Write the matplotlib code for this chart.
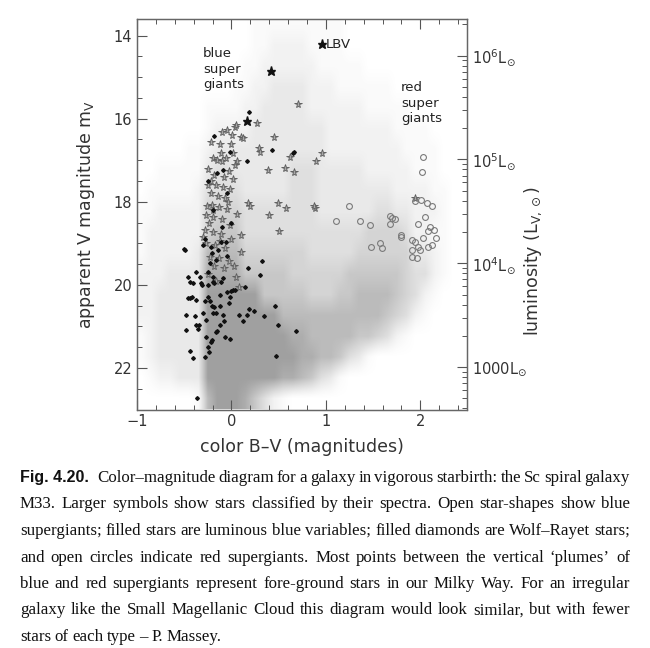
import numpy as np
import matplotlib
matplotlib.use("Agg")
import matplotlib.pyplot as plt
from matplotlib.colors import LinearSegmentedColormap, PowerNorm
from matplotlib.ticker import MultipleLocator, LogLocator, FixedLocator, FuncFormatter, NullFormatter

# field-star cloud: density levels (0-9),
# one string per 0.5 mag row (13.75 ... 22.75), one digit per 0.1 in B-V (-0.95 ... 2.45)
density_rows = [
    "00000 00000 00111 11111 11000 00000 00000",
    "00000 00000 00112 22211 11000 00000 00000",
    "00000 00000 01122 22221 11110 00000 00000",
    "00000 00000 11223 33322 21111 11000 00000",
    "00000 00111 12233 33322 22221 11110 00000",
    "00000 00122 22333 33333 22222 22111 10000",
    "00000 11233 33333 33333 22222 22211 11000",
    "00111 11344 33333 34443 33332 22221 11000",
    "01111 12444 43333 34443 33333 33222 21100",
    "11222 22555 54444 44443 33333 44332 22100",
    "12222 22566 64444 44444 44445 55542 21100",
    "12222 23777 75555 55544 44455 55553 32100",
    "22233 33888 86666 65555 55666 66654 42100",
    "22333 33999 99966 66655 56677 77654 21000",
    "22333 33999 99999 77777 77777 76542 10000",
    "12333 33999 99999 98877 77766 54210 00000",
    "12333 33999 99999 99887 76431 00000 00000",
    "01223 33999 99999 88764 31000 00000 00000",
    "00000 01799 98642 10000 00000 00000 00000",
]

# blue supergiants (open stars)
bsg_bv = [-0.22, -0.10, -0.05, 0.035, 0.05, 0.10, 0.12, 0.01, 0.27, 0.45, 0.71, 0.29,
          -0.11, 0.02, 0.30, 0.62, 0.90, 0.96, 0.39, 0.57, 0.66, -0.10, 0.035, 0.06,
          -0.18, -0.08, 0.02, -0.16, -0.09, -0.22, -0.14, -0.07, -0.21, -0.13, -0.05,
          -0.27, -0.19, -0.10, -0.28, -0.19, -0.11, -0.27, -0.17, -0.07, -0.23, -0.13,
          -0.03, 0.18, 0.20, 0.49, 0.58, 0.40, 0.88, 0.50, -0.20, -0.25, -0.03, -0.25,
          -0.01, -0.24, -0.02, -0.30, 0.00, -0.18, -0.08, -0.25, 0.05, -0.12, 0.00,
          -0.06, 0.06, 0.10, 0.10, 0.08, 0.87, 1.94, -0.15, -0.20, -0.04, -0.26, -0.12,
          0.03, -0.16, -0.22]
bsg_mag = [16.55, 16.33, 16.27, 16.20, 16.14, 16.43, 16.47, 16.39, 16.10, 16.44, 15.65, 16.70,
           16.83, 16.83, 16.79, 16.92, 17.01, 16.83, 17.23, 17.19, 17.29, 17.03, 17.11, 17.03,
           17.35, 17.40, 17.45, 17.59, 17.65, 17.79, 17.85, 17.92, 18.07, 18.12, 18.17,
           18.31, 18.36, 18.42, 18.67, 18.72, 18.78, 19.00, 19.05, 19.12, 19.32, 19.36,
           19.42, 18.03, 18.10, 18.03, 18.15, 18.31, 18.15, 18.70, 16.95, 17.20, 17.25, 17.60,
           17.70, 18.50, 18.55, 18.85, 18.90, 19.55, 19.60, 19.75, 19.80, 16.60, 16.60,
           16.95, 18.30, 18.80, 19.20, 20.05, 18.10, 17.90, 17.00, 18.20, 18.00, 18.10, 18.95,
           19.55, 19.90, 17.50]

# luminous blue variables (filled stars)
lbv_bv = [0.96, 0.42, 0.17]
lbv_mag = [14.19, 14.86, 16.06]

# Wolf-Rayet stars (filled diamonds)
wr_bv = [0.19, -0.18, 0.43, 0.65, -0.02, -0.09, 0.16, -0.49, -0.37, -0.46, -0.44, -0.33,
         -0.31, -0.44, -0.38, -0.48, -0.39, -0.48, -0.37, -0.44, -0.41, -0.36, -0.28, -0.24,
         -0.27, -0.21, -0.16, -0.12, -0.07, -0.02, -0.16, -0.09, -0.18, -0.12, -0.03, -0.05,
         0.00, 0.035, -0.25, -0.23, -0.12, -0.25, -0.18, -0.11, -0.09, -0.20, -0.25, -0.23,
         -0.16, -0.21, -0.14, -0.11, -0.06, 0.16, 0.08, 0.12, 0.19, 0.24, 0.18, 0.30, 0.32,
         0.35, 0.46, 0.49, 0.47, 0.68, -0.25, 0.14, -0.22, -0.15, -0.08, -0.27, -0.35, -0.34,
         -0.46, -0.42, -0.28, -0.30, -0.19, -0.21, -0.01, 0.02, -0.41, -0.32, -0.20, -0.50,
         -0.30, 0.66, -0.25, -0.15, -0.05, -0.20, -0.10, -0.28, 0.00, -0.05, -0.22]
wr_mag = [15.85, 16.41, 16.76, 16.83, 16.79, 17.23, 17.03, 19.16, 19.68, 19.82, 19.92, 19.80,
          20.00, 20.32, 20.36, 20.72, 20.76, 21.08, 20.96, 21.58, 21.77, 22.73, 21.73, 21.61,
          21.25, 21.33, 21.13, 20.96, 21.25, 21.31, 20.68, 20.72, 20.54, 20.52, 20.44, 20.16,
          20.14, 20.12, 20.28, 20.40, 20.24, 20.00, 19.96, 19.92, 19.84, 19.80, 19.68, 19.48,
          19.40, 19.24, 19.16, 18.96, 18.96, 20.72, 20.72, 20.88, 20.58, 20.64, 19.60, 19.76,
          19.42, 20.75, 20.52, 20.96, 21.71, 21.12, 21.49, 20.04, 21.37, 21.12, 20.88, 20.84,
          21.07, 20.96, 20.32, 20.28, 20.40, 20.68, 20.68, 20.52, 20.28, 20.12, 19.95, 19.96,
          19.92, 19.14, 19.04, 16.81, 17.50, 17.30, 17.80, 18.20, 18.60, 18.90, 18.50, 19.30,
          19.10]

# red supergiants (open circles)
rsg_bv = [2.03, 2.02, 1.94, 2.01, 2.07, 2.12, 1.68, 1.73, 1.68, 1.80, 1.98, 2.05, 2.14, 2.10,
          1.94, 1.98, 2.03, 2.08, 1.91, 1.57, 1.59, 1.36, 1.11, 1.24, 2.17, 2.08, 1.91, 2.00,
          1.80, 1.70, 1.47, 1.48, 2.12, 1.91, 1.96]
rsg_mag = [16.91, 17.28, 17.97, 17.95, 18.03, 18.11, 18.34, 18.42, 18.53, 18.80, 18.53, 18.37,
           18.67, 18.60, 18.96, 19.08, 18.87, 19.08, 19.16, 19.00, 19.12, 18.47, 18.47, 18.11,
           18.87, 18.71, 18.92, 19.16, 18.84, 18.39, 18.55, 19.08, 19.04, 19.32, 19.35]

lum_ticks = [1e3, 1e4, 1e5, 1e6]
lum_labels = [r"$1000\mathrm{L}_{\odot}$", r"$10^{4}\mathrm{L}_{\odot}$",
              r"$10^{5}\mathrm{L}_{\odot}$", r"$10^{6}\mathrm{L}_{\odot}$"]

caption = [
    [("Fig. 4.20.", "bold"), ("Color\u2013magnitude", "normal"), ("diagram", "normal"), ("for", "normal"),
     ("a", "normal"), ("galaxy", "normal"), ("in", "normal"), ("vigorous", "normal"), ("starbirth:", "normal"),
     ("the", "normal"), ("Sc", "normal"), ("spiral", "normal"), ("galaxy", "normal")],
    "M33. Larger symbols show stars classified by their spectra. Open star-shapes show blue",
    "supergiants; filled stars are luminous blue variables; filled diamonds are Wolf\u2013Rayet stars;",
    "and open circles indicate red supergiants. Most points between the vertical \u2018plumes\u2019 of",
    "blue and red supergiants represent fore-ground stars in our Milky Way. For an irregular",
    "galaxy like the Small Magellanic Cloud this diagram would look similar, but with fewer",
    "stars of each type \u2013 P. Massey.",
]


def mag_to_lum(m):
    return 10 ** (6 - (m - 14.48) / 2.5)


W, H = 650, 648
fig = plt.figure(figsize=(6.5, 6.48), dpi=100)
ax = fig.add_axes([137 / W, 1 - 409.5 / H, (467.5 - 137) / W, (409.5 - 19) / H])

grid = np.array([[int(c) for c in row.replace(" ", "")] for row in density_rows], dtype=float)
cmap = LinearSegmentedColormap.from_list("cloud", ["#ffffff", "#a0a0a0"])
ax.imshow(grid, cmap=cmap, norm=PowerNorm(gamma=1.35, vmin=0, vmax=9),
          extent=(-1.0, 2.5, 23.0, 13.5),
          aspect="auto", interpolation="bilinear", zorder=1)

ax.plot(rsg_bv, rsg_mag, "o", ms=4.2, mfc="none", mec="#7a7a7a", mew=0.8, zorder=3)
ax.plot(bsg_bv, bsg_mag, "*", ms=5.8, mfc="#a8a8a8", mec="#5a5a5a", mew=0.6, zorder=4)
ax.plot(wr_bv, wr_mag, "D", ms=1.9, color="#111111", zorder=5)
ax.plot(lbv_bv, lbv_mag, "*", ms=6.5, color="#111111", zorder=6)

ax.text(-0.30, 14.28, "blue\nsuper\ngiants", fontsize=9.5, va="top", ha="left",
        linespacing=1.25, color="#222222")
ax.text(1.795, 15.10, "red\nsuper\ngiants", fontsize=9.5, va="top", ha="left",
        linespacing=1.25, color="#222222")
ax.text(1.0, 14.22, "LBV", fontsize=9.5, va="center", ha="left", color="#222222")

ax.set_xlim(-1.0, 2.5)
ax.set_ylim(23.0, 13.6)
ax.xaxis.set_major_locator(MultipleLocator(1))
ax.xaxis.set_minor_locator(MultipleLocator(0.2))
ax.yaxis.set_major_locator(MultipleLocator(2))
ax.yaxis.set_minor_locator(MultipleLocator(0.5))
ax.tick_params(which="both", direction="in", top=True, right=False, colors="#555555",
               labelcolor="#333333", labelsize=10.5)
ax.tick_params(which="major", length=7, width=0.8)
ax.tick_params(which="minor", length=3.5, width=0.7)
for s in ax.spines.values():
    s.set_color("#666666")
    s.set_linewidth(0.9)

ax.set_xlabel("color B\u2013V (magnitudes)", fontsize=12.5, color="#333333", labelpad=6)
ax.set_ylabel(r"apparent V magnitude m$_{\rm V}$", fontsize=12.5, color="#333333", labelpad=12)

ax2 = ax.twinx()
ax2.set_yscale("log")
ax2.set_ylim(mag_to_lum(23.0), mag_to_lum(13.6))
ax2.yaxis.set_major_locator(FixedLocator(lum_ticks))
ax2.yaxis.set_major_formatter(FuncFormatter(lambda v, p: lum_labels[lum_ticks.index(v)] if v in lum_ticks else ""))
ax2.yaxis.set_minor_locator(LogLocator(base=10, subs=np.arange(2, 10)))
ax2.yaxis.set_minor_formatter(NullFormatter())
ax2.tick_params(which="both", direction="in", colors="#555555", labelcolor="#333333", labelsize=10.5)
ax2.tick_params(which="major", length=7, width=0.8)
ax2.tick_params(which="minor", length=3.5, width=0.7)
for s in ax2.spines.values():
    s.set_color("#666666")
    s.set_linewidth(0.9)
ax2.set_ylabel(r"luminosity (L$_{\rm V,\odot}$)", fontsize=12.5, color="#333333")
ax2.yaxis.set_label_coords(1.165, 0.38)

# caption, justified line by line
renderer = fig.canvas.get_renderer()
x0, x1 = 20 / W, 630 / W
base = 482.0
step = 26.5
for i, line in enumerate(caption):
    if isinstance(line, str):
        tokens = [(w, "normal") for w in line.split(" ")]
    else:
        tokens = line
    y = 1 - (base + i * step) / H
    texts = []
    extra = []
    for word, wt in tokens:
        if wt == "bold":
            t = fig.text(0, y, word, fontsize=11.5, family="Liberation Sans", weight="bold",
                         va="baseline", color="#111111")
            extra.append(5.0 / W)
        else:
            t = fig.text(0, y, word, fontsize=12.2, family="Liberation Serif",
                         va="baseline", color="#111111")
            extra.append(0.0)
        texts.append(t)
    widths = [t.get_window_extent(renderer).width / W for t in texts]
    if i < len(caption) - 1:
        gap = (x1 - x0 - sum(widths) - sum(extra)) / (len(texts) - 1)
    else:
        gap = 3.5 / W
    x = x0
    for t, w, e in zip(texts, widths, extra):
        t.set_x(x)
        x += w + gap + e

fig.savefig("out.png", dpi=100)
